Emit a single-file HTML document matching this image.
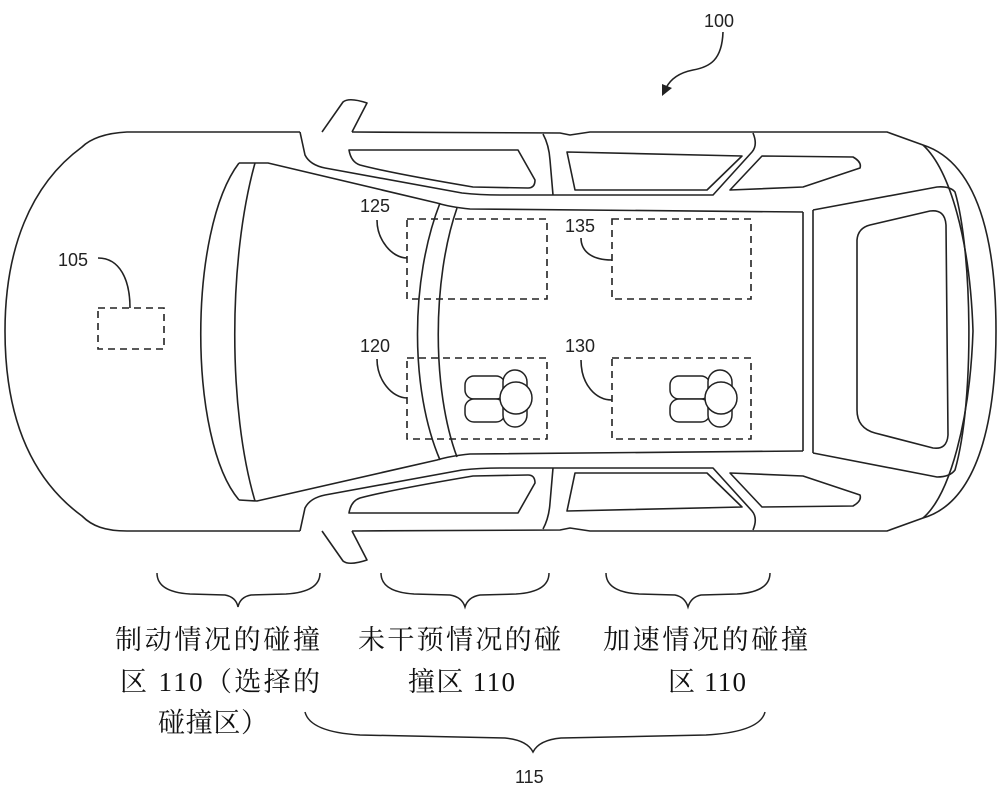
<!DOCTYPE html>
<html><head><meta charset="utf-8"><style>
html,body{margin:0;padding:0;background:#fff;}
svg{display:block;}
.t{font-family:"Liberation Sans",sans-serif;font-size:18px;fill:#222;}
.c{font-family:"Liberation Serif","Noto Serif CJK SC",serif;font-size:27px;fill:#111;}
</style></head><body>
<svg width="1000" height="795" viewBox="0 0 1000 795" xmlns="http://www.w3.org/2000/svg">
<g fill="none" stroke="#222" stroke-width="1.6" stroke-linejoin="round">
<!-- body outline -->
<path d="M300,132 L127,132 C105,133 90,139 82,147 C30,185 5,250 5,331 C5,415 30,478 82,516 C92,526 105,531 127,531 L300,531"/>
<path d="M352,132 L560,133 L570,135 L590,132 L887,132 L923,145 C985,165 996,260 996,331 C996,400 985,500 923,518 L887,531 L590,531 L570,528 L560,530 L352,531"/>
<path d="M923,145 C950,170 970,240 973,331 C970,420 950,495 923,518"/>
<!-- windshield -->
<path d="M239,163 C188,230 188,440 239,500"/>
<path d="M255,163 C228,260 228,410 255,501"/>
<path d="M239,163 L268,163 L437,203 Q450,207 470,209 L803,212"/>
<path d="M239,500 L257,501 L437,460 Q450,456 470,454 L803,451"/>
<!-- B pillars roof -->
<path d="M440,203 C410,280 410,390 440,460"/>
<path d="M457,208 C432,280 432,390 457,457"/>
<!-- rear -->
<path d="M803,212 L803,451"/>
<path d="M813,210 L813,453"/>
<path d="M813,210 L937,187 Q950,186 955,192 C972,250 975,400 955,470 Q950,477 937,477 L813,453"/>
<path d="M857,240 Q858,228 870,225 L930,211 Q945,209 946,225 L948,435 Q947,450 933,448 L875,433 Q857,428 857,410 Z"/>
<!-- 105 leader & box -->
<path d="M98,258 C120,258 130,280 130,308"/>
<!-- leaders -->
<path d="M377,220 C377,240 392,258 407,258"/>
<path d="M377,359 C377,380 392,398 407,398"/>
<path d="M581,238 C581,250 590,260 612,260"/>
<path d="M581,360 C581,385 596,400 612,400"/>
<!-- 100 arrow -->
<path d="M723,32 C722,60 710,67 693,70 C678,73 670,80 666,88"/>
</g>
<path d="M662,96 L662,84 L672,88 Z" fill="#222"/>
<!-- side details top half + mirror -->
<g id="side" fill="none" stroke="#222" stroke-width="1.6" stroke-linejoin="round">
<path d="M322,132 L343,102 Q349,97 367,103 L352,132"/>
<path d="M300,132 L305,155 Q310,165 325,168 L462,193 Q480,195 500,195 L713,195 L752,152 Q758,145 753,133"/>
<path d="M349,150 L518,150 L535,180 Q535,188 528,188 L473,187 Q390,173 360,165 Q351,162 349,150 Z"/>
<path d="M543,134 Q549,145 550,160 L553,195"/>
<path d="M567,152 L742,156 L707,190 L575,190 Z"/>
<path d="M762,156 L853,157 Q862,162 860,168 L803,187 L730,190 Z"/>
</g>
<use href="#side" transform="translate(0,663) scale(1,-1)"/>
<!-- dashed boxes -->
<g fill="none" stroke="#222" stroke-width="1.6" stroke-dasharray="7,5">
<rect x="98" y="308" width="66" height="41"/>
<rect x="407" y="219" width="140" height="80"/>
<rect x="407" y="358" width="140" height="81"/>
<rect x="612" y="219" width="139" height="80"/>
<rect x="612" y="358" width="139" height="81"/>
</g>
<!-- seats -->
<g id="seat" fill="#fff" stroke="#222" stroke-width="1.5">
<rect x="670" y="376" width="40" height="23" rx="9"/>
<rect x="670" y="399" width="40" height="23" rx="9"/>
<rect x="708" y="370" width="24" height="57" rx="12"/>
<circle cx="721" cy="398" r="16"/>
</g>
<use href="#seat" transform="translate(-205,0)"/>
<!-- braces -->
<g fill="none" stroke="#222" stroke-width="1.5">
<path d="M157,573 Q157,592 190,594 L225,595 Q236,597 238,607 Q240,597 251,595 L286,594 Q320,592 320,573"/>
<path d="M381,573 Q381,592 414,594 L450,595 Q462,597 465,607 Q468,597 480,595 L516,594 Q549,592 549,573"/>
<path d="M606,573 Q606,592 639,594 L675,595 Q685,597 688,607 Q691,597 701,595 L737,594 Q770,592 770,573"/>
<path d="M305,712 Q310,732 360,735 L505,738 Q527,740 533,752 Q539,740 561,738 L706,735 Q760,732 765,712"/>
</g>
<!-- labels -->
<text class="t" x="704" y="27">100</text>
<text class="t" x="58" y="266">105</text>
<text class="t" x="360" y="212">125</text>
<text class="t" x="360" y="352">120</text>
<text class="t" x="565" y="232">135</text>
<text class="t" x="565" y="352">130</text>
<text class="t" x="515" y="783">115</text>
<text class="c" x="115" y="649" textLength="205">制动情况的碰撞</text>
<text class="c" x="120" y="691" textLength="200">区 110（选择的</text>
<text class="c" x="158" y="732" textLength="110">碰撞区）</text>
<text class="c" x="358" y="649" textLength="203">未干预情况的碰</text>
<text class="c" x="408" y="691" textLength="107">撞区 110</text>
<text class="c" x="603" y="649" textLength="205">加速情况的碰撞</text>
<text class="c" x="668" y="691" textLength="78">区 110</text>
</svg>
</body></html>
